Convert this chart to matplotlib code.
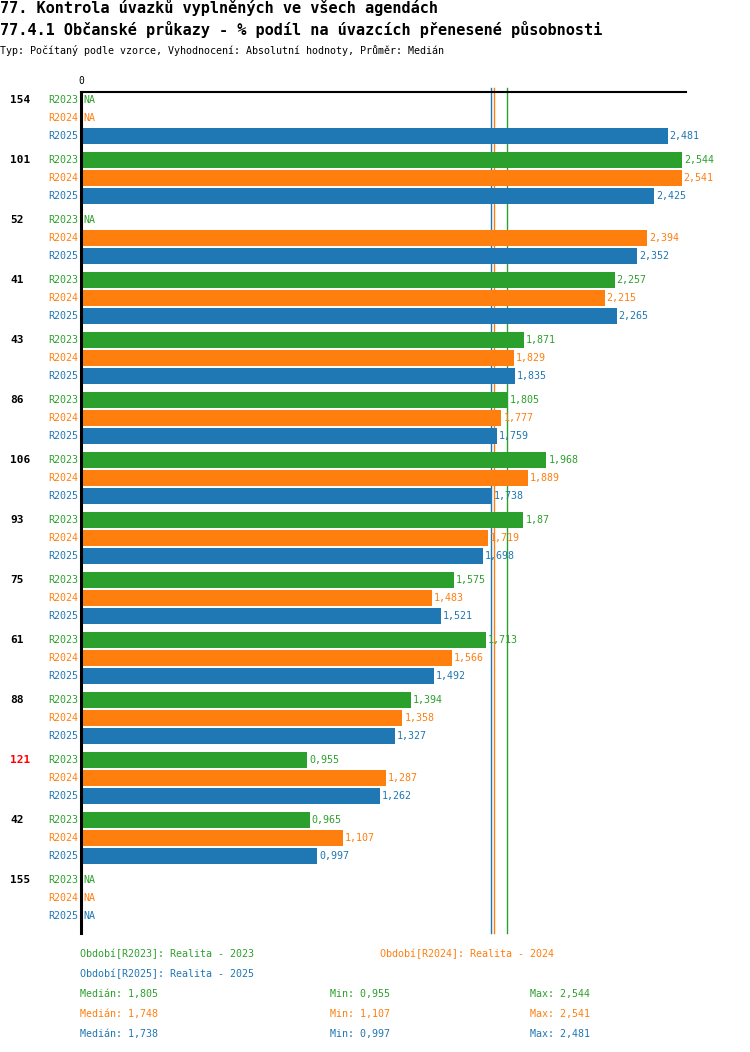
import numpy as np
import matplotlib
matplotlib.use("Agg")
import matplotlib.pyplot as plt

# ---- data -------------------------------------------------------------------
groups = ["154", "101", "52", "41", "43", "86", "106", "93", "75", "61", "88", "121", "42", "155"]
highlight = {"121"}
series = ["R2023", "R2024", "R2025"]
nan = np.nan
r2023 = [nan, 2.544, nan, 2.257, 1.871, 1.805, 1.968, 1.87, 1.575, 1.713, 1.394, 0.955, 0.965, nan]
r2024 = [nan, 2.541, 2.394, 2.215, 1.829, 1.777, 1.889, 1.719, 1.483, 1.566, 1.358, 1.287, 1.107, nan]
r2025 = [2.481, 2.425, 2.352, 2.265, 1.835, 1.759, 1.738, 1.698, 1.521, 1.492, 1.327, 1.262, 0.997, nan]
legend_names = ["Realita - 2023", "Realita - 2024", "Realita - 2025"]

COLORS = ["#2ca02c", "#ff7f0e", "#1f77b4"]
FONT = "DejaVu Sans Mono"
W, H = 750, 1052


def fmt(v):
    return f"{v:g}".replace(".", ",")


fig = plt.figure(figsize=(W / 100, H / 100), dpi=100)
fig.patch.set_facecolor("white")

# axes placed in pixel coords: x0=81, right=686, top=92, bottom=933
X0, X1, Y0, Y1 = 81, 686, 92, 933
PX_PER_UNIT = 236.0
ax = fig.add_axes([X0 / W, 1 - Y1 / H, (X1 - X0) / W, (Y1 - Y0) / H])
ax.set_xlim(0, (X1 - X0) / PX_PER_UNIT)
ax.set_ylim(Y1, Y0)  # y in pixels from top
ax.axis("off")

def tx(px):
    return px / W

def ty(py):
    return 1 - py / H

# titles
fig.text(tx(0), ty(8), "77. Kontrola úvazků vyplněných ve všech agendách", family=FONT,
         fontsize=11, fontweight="bold", va="center", ha="left")
fig.text(tx(0), ty(30), "77.4.1 Občanské průkazy - % podíl na úvazcích přenesené působnosti",
         family=FONT, fontsize=11, fontweight="bold", va="center", ha="left")
fig.text(tx(0), ty(50), "Typ: Počítaný podle vzorce, Vyhodnocení: Absolutní hodnoty, Průměr: Medián",
         family=FONT, fontsize=7.2, va="center", ha="left")
fig.text(tx(81), ty(81), "0", family=FONT, fontsize=7, ha="center", va="center")

data = [r2023, r2024, r2025]
medians = [np.nanmedian(s) for s in data]

# axis lines; median lines sit behind the bars
ax.plot([0, ax.get_xlim()[1]], [Y0, Y0], color="black", lw=1.5, clip_on=False, zorder=3)
ax.plot([0, 0], [Y0, Y1], color="black", lw=2.2, clip_on=False, zorder=3)
for m, c in zip(medians, COLORS):
    ax.plot([m, m], [88, Y1], color=c, lw=1, clip_on=False, zorder=0)

dx = 2 / PX_PER_UNIT
for g, name in enumerate(groups):
    base = 100 + 60 * g
    fig.text(tx(10), ty(base), name, family=FONT, fontsize=8, fontweight="bold",
             color="red" if name in highlight else "black", va="center", ha="left")
    for k, (s, c) in enumerate(zip(data, COLORS)):
        y = base + 18 * k
        v = s[g]
        fig.text(tx(78), ty(y), series[k], family=FONT, fontsize=7.2, color=c,
                 va="center", ha="right")
        if np.isnan(v):
            ax.text(dx, y, "NA", family=FONT, fontsize=7.2, color=c, va="center", ha="left")
        else:
            ax.barh(y, v, height=16, left=1 / PX_PER_UNIT, color=c, zorder=2)
            ax.text(v + dx * 1.5, y, fmt(v), family=FONT, fontsize=7.2, color=c,
                    va="center", ha="left", clip_on=False, zorder=4)

# legend
fig.text(tx(80), ty(954), f"Období[{series[0]}]: {legend_names[0]}", family=FONT,
         fontsize=7.2, color=COLORS[0], va="center")
fig.text(tx(380), ty(954), f"Období[{series[1]}]: {legend_names[1]}", family=FONT,
         fontsize=7.2, color=COLORS[1], va="center")
fig.text(tx(80), ty(974), f"Období[{series[2]}]: {legend_names[2]}", family=FONT,
         fontsize=7.2, color=COLORS[2], va="center")

for k, (s, c) in enumerate(zip(data, COLORS)):
    y = 994 + 20 * k
    fig.text(tx(80), ty(y), f"Medián: {fmt(np.nanmedian(s))}", family=FONT,
             fontsize=7.2, color=c, va="center")
    fig.text(tx(330), ty(y), f"Min: {fmt(np.nanmin(s))}", family=FONT,
             fontsize=7.2, color=c, va="center")
    fig.text(tx(530), ty(y), f"Max: {fmt(np.nanmax(s))}", family=FONT,
             fontsize=7.2, color=c, va="center")

fig.savefig("out.png", dpi=100, facecolor="white")
